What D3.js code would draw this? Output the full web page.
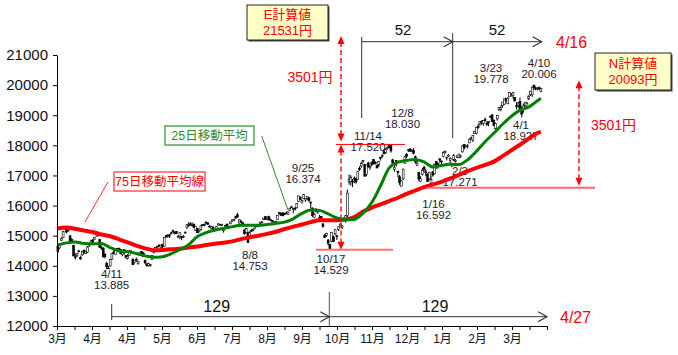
<!DOCTYPE html>
<html><head><meta charset="utf-8">
<script src="https://cdn.jsdelivr.net/npm/d3@7"></script>
<style>
body{margin:0;background:#fff}
svg{display:block}
text{font-family:"Liberation Sans","Noto Sans CJK JP",sans-serif}
</style>
</head><body>
<svg id="c" width="678" height="355"></svg>
<script>
// ---------------- DATA ----------------
// Daily candles, 2014/3/3 (index 0) .. 2015/4/16 (index 277)
const openP=[14651,14595,14850,14928,15213,15176,15163,14996,14870,14669,
14298,14330,14492,14269,14365,14524,14415,14452,14680,14726,
14862,14870,15030,15061,14869,14595,14593,14380,14080,13924,
13997,14221,14452,14368,14571,14587,14545,14370,14542,14343,
14249,14344,14488,14223,14104,14215,14065,14351,14470,14428,
14175,14058,14017,14011,14211,14479,14517,14616,14674,14617,
14711,14650,14998,15025,15028,15096,15160,15118,15137,14972,
14962,14972,14962,15109,15256,15352,15396,15329,15384,15185,
15236,15137,15197,15339,15371,15440,15425,15308,15244,15283,
15193,15236,15355,15362,15364,15163,15324,15385,15291,15393,
15489,15516,15577,15695,15417,15482,15444,15181,15097,15094,
14962,15178,15181,15250,15339,15309,15398,15445,15536,15633,
15551,15640,15511,15500,15389,15466,15532,15763,15722,15758,
15723,15754,15711,15836,15956,15899,15906,15923,16137,16284,
16096,16235,16184,16228,16260,16117,15916,15606,15850,15822,
15578,15638,15391,15018,15011,14857,14703,14817,14964,15061,
14996,15212,15298,15280,15551,15532,15673,16785,16800,16810,
16907,16912,16868,17241,17317,17464,17359,17030,17412,17272,
17437,17533,17450,17333,17339,17600,17644,17794,17747,17900,
18006,17989,17519,17207,17500,17143,16958,16643,16887,17400,
17702,17829,17884,17788,17825,17621,17325,17101,16808,17041,
17273,17122,17040,16887,16731,17121,17055,17457,17398,17556,
17477,17635,17752,17585,17631,17505,17365,17504,17460,17597,
17588,17646,17783,18030,17952,17985,18079,18239,18176,18386,
18407,18632,18717,18793,18732,18860,18719,18786,18967,19011,
18837,18551,18878,19182,19188,19314,19368,19547,19380,19610,
19680,19664,19596,19311,19313,19452,19154,19183,19307,19301,
19539,19688,19679,20003,19900,19876,19913,19793];
const highP=[14651,14732,14940,15140,15312,15215,15242,15018,14911,14698,
14417,14420,14531,14335,14485,14529,14499,14656,14757,14855,
14881,14962,15079,15138,14895,14671,14607,14429,14134,13999,
14220,14422,14527,14521,14588,14593,14564,14467,14545,14348,
14388,14523,14519,14237,14181,14274,14171,14442,14493,14453,
14208,14086,14100,14056,14345,14532,14619,14660,14719,14694,
14730,14936,15021,15038,15047,15124,15203,15134,15155,15019,
15109,14972,15021,15141,15381,15451,15442,15442,15397,15323,
15259,15167,15343,15389,15405,15490,15442,15353,15332,15313,
15228,15320,15406,15391,15394,15278,15359,15396,15329,15464,
15531,15560,15660,15759,15547,15530,15450,15216,15256,15117,
15133,15220,15245,15328,15374,15339,15451,15485,15590,15640,
15623,15663,15570,15519,15469,15496,15670,15781,15772,15777,
15757,15802,15801,15931,15992,15925,15956,16067,16321,16294,
16204,16374,16235,16311,16264,16132,15939,15760,15895,15858,
15689,15651,15409,15052,15101,14888,14707,15115,15006,15217,
15030,15304,15397,15346,15613,15683,16533,17033,17006,16882,
16969,16913,17155,17308,17458,17520,17386,17350,17457,17344,
17463,17550,17458,17355,17460,17617,17702,17864,17892,17965,
18030,18000,17553,17421,17517,17143,17015,16852,17225,17650,
17750,17875,17894,17870,17911,17662,17540,17101,16974,17243,
17325,17219,17075,17120,16998,17144,17390,17480,17421,17564,
17500,17795,17829,17607,17712,17605,17422,17700,17545,17669,
17717,17685,18002,18045,18015,18037,18229,18268,18332,18485,
18611,18706,18785,18839,18834,18925,18788,18786,18981,19033,
18855,18750,19012,19263,19321,19439,19544,19587,19590,19778,
19730,19778,19599,19439,19436,19592,19299,19389,19435,19441,
19658,19792,19949,20006,19957,19925,19957,19914];
const lowP=[14409,14560,14830,14920,15193,15071,15128,14814,14756,14318,
14203,14294,14446,14201,14330,14382,14397,14422,14621,14712,
14748,14853,14969,14955,14606,14528,14266,14243,13885,13892,
13976,14195,14392,14363,14492,14481,14380,14315,14361,14234,
14208,14328,14422,14023,14074,14137,14043,14324,14390,14290,
14058,13964,13976,13964,14202,14413,14509,14594,14628,14594,
14589,14634,14920,14932,14921,15037,15098,15041,15052,14928,
14880,14850,14917,15060,15230,15295,15329,15307,15257,15158,
15084,15105,15166,15308,15311,15411,15350,15266,15231,15170,
15133,15226,15336,15326,15315,15100,15258,15292,15236,15380,
15457,15482,15552,15600,15407,15425,15311,15030,15080,14753,
14952,15126,15139,15221,15294,15277,15374,15412,15513,15523,
15511,15515,15481,15441,15343,15417,15525,15688,15663,15638,
15681,15715,15687,15826,15929,15743,15838,15920,16115,16185,
16066,16215,16121,16173,16124,15914,15624,15594,15765,15729,
15525,15459,15265,14920,14965,14674,14529,14776,14790,15012,
14855,15154,15286,15221,15513,15436,15620,16693,16658,16612,
16742,16731,16853,17148,17252,17400,16973,16976,17256,17184,
17310,17359,17370,17240,17280,17493,17580,17700,17732,17864,
17897,17759,17386,17123,17289,16936,16672,16643,16853,17398,
17571,17778,17782,17778,17698,17386,17325,16808,16808,16992,
17122,16971,16783,16843,16592,16960,17030,17220,17220,17422,
17380,17600,17729,17502,17604,17407,17271,17472,17421,17586,
17569,17586,17761,17856,17930,17892,18079,18173,18111,18382,
18364,18549,18648,18679,18652,18780,18639,18637,18897,18790,
18634,18469,18821,19144,19127,19248,19341,19424,19369,19603,
19620,19554,19462,19192,19250,19206,18927,19082,19276,19255,
19512,19639,19606,19837,19825,19823,19837,19764];
const closeP=[14475,14721,14897,15134,15274,15120,15224,14830,14815,14327,
14277,14411,14462,14224,14475,14423,14477,14622,14696,14828,
14791,14946,15071,15063,14606,14607,14299,14300,13960,13910,
14203,14417,14417,14516,14512,14546,14404,14429,14429,14288,
14304,14485,14457,14033,14163,14199,14149,14425,14405,14298,
14097,14006,14075,14042,14337,14462,14602,14636,14670,14682,
14632,14935,14976,15000,14984,15077,15124,15069,15069,14973,
15097,14933,14975,15115,15361,15349,15369,15376,15266,15308,
15095,15162,15326,15369,15348,15437,15379,15314,15302,15216,
15164,15297,15395,15379,15370,15215,15343,15328,15284,15457,
15529,15530,15646,15621,15523,15474,15320,15065,15232,14778,
15130,15161,15213,15314,15318,15322,15449,15454,15586,15539,
15613,15521,15534,15459,15424,15476,15668,15728,15676,15668,
15705,15749,15788,15909,15948,15911,15888,16067,16321,16205,
16167,16374,16229,16310,16173,16082,15661,15708,15891,15784,
15595,15479,15300,14936,15074,14738,14532,15111,14804,15195,
14975,15291,15388,15329,15553,15658,16413,16862,16937,16793,
16880,16780,17124,17197,17392,17490,16973,17344,17288,17300,
17357,17407,17383,17248,17459,17590,17663,17720,17887,17920,
17935,17813,17412,17257,17371,17099,16755,16819,17210,17621,
17635,17854,17808,17818,17729,17450,17408,16883,16885,17167,
17197,17087,16795,17108,16864,17014,17366,17280,17329,17511,
17468,17768,17795,17606,17674,17558,17335,17678,17504,17648,
17711,17652,17979,17913,18004,17987,18199,18264,18332,18466,
18603,18585,18785,18797,18826,18815,18703,18751,18971,18790,
18665,18723,18991,19254,19246,19437,19544,19476,19560,19754,
19713,19746,19471,19285,19411,19206,19034,19312,19435,19397,
19640,19789,19937,19907,19905,19908,19869,19885];

// Moving averages (every 5th trading day + last day)
const maDays=[0,5,10,15,20,25,30,35,40,45,50,55,60,65,70,75,80,85,90,95,100,105,110,115,120,125,130,135,140,145,150,155,160,165,170,175,180,185,190,195,200,205,210,215,220,225,230,235,240,245,250,255,260,265,270,275,277];
const ma25=[14690,14760,14790,14740,14730,14740,14600,14500,14470,14410,14330,14280,14300,14400,14540,14700,14970,15100,15190,15240,15300,15345,15350,15345,15370,15410,15450,15560,15740,15850,15840,15720,15590,15530,15540,15750,16100,16650,17250,17440,17500,17530,17450,17280,17330,17370,17360,17520,17800,18120,18400,18700,18960,19170,19270,19480,19560];
const ma75=[15240,15268,15230,15170,15120,15040,14980,14880,14780,14670,14580,14515,14525,14545,14570,14610,14640,14690,14730,14765,14810,14885,14945,15000,15060,15130,15220,15300,15370,15450,15510,15515,15515,15540,15620,15800,15930,16040,16150,16260,16390,16500,16610,16700,16790,16900,17020,17140,17250,17350,17460,17640,17830,18020,18220,18410,18449];

const monthLabels=["3月","4月","4月","5月","6月","7月","8月","9月","10月","11月","12月","1月","2月","3月"];
const yTicks=[12000,13000,14000,15000,16000,17000,18000,19000,20000,21000];

const pointDates=["4/11","8/8","9/25","10/17","11/14","12/8","1/16","2/3","3/23","4/1","4/10"];
const pointVals=["13.885","14.753","16.374","14.529","17.520","18.030","16.592","17.271","19.778","18.927","20.006"];

const levelHigh=18030, levelLow=14529, levelLow2=16592;
const eValue=21531, nValue=20093, diffValue=3501;
const spanDays1=52, spanDays2=129;

// ---------------- DRAW ----------------
const svg=d3.select("#c");
const x=d3.scaleLinear().domain([0,281]).range([57,547]);
const y=d3.scaleLinear().domain([12000,21000]).range([326,55]);
const tickScale=d3.scaleLinear().domain([0,28]).range([57,547]);

// axes
const gy=svg.append("g").attr("transform","translate(57,0)")
  .call(d3.axisLeft(y).tickValues(yTicks).tickSize(4).tickSizeOuter(0).tickPadding(5).tickFormat(d=>String(d)));
gy.selectAll("text").attr("font-size",15).attr("fill","#111");
gy.selectAll("line,path").attr("stroke","#000");

const gx=svg.append("g").attr("transform","translate(0,326)")
  .call(d3.axisBottom(tickScale).tickValues(d3.range(29)).tickSize(4).tickSizeOuter(0).tickPadding(4)
  .tickFormat(k=>(k%2===0 && k/2<monthLabels.length)?monthLabels[k/2]:""));
gx.selectAll("text").attr("font-size",12).attr("fill","#111");
gx.selectAll("line,path").attr("stroke","#000");

// point labels (under the lines)
const lblPos=[[111.7,273.8],[250,254.7],[303,167.5],[331,259],[368,135.8],[402.5,112.5],[433.5,203.7],[460,170.8],[491,67.5],[521,124.5],[539,62.5]];
const gl=svg.append("g").attr("font-size",11.5).attr("fill","#1b1b2b").attr("text-anchor","middle");
pointDates.forEach((d,i)=>{
  gl.append("text").attr("x",lblPos[i][0]).attr("y",lblPos[i][1]).attr("dy","0.35em").text(d);
  gl.append("text").attr("x",lblPos[i][0]).attr("y",lblPos[i][1]+11.3).attr("dy","0.35em").text(pointVals[i]);
});

// candles
const gc=svg.append("g");
const cx=i=>x(i+0.5);
gc.selectAll("line").data(closeP).join("line")
  .attr("x1",(d,i)=>cx(i)).attr("x2",(d,i)=>cx(i))
  .attr("y1",(d,i)=>y(highP[i])).attr("y2",(d,i)=>y(lowP[i]))
  .attr("stroke","#000").attr("stroke-width",1);
gc.selectAll("rect").data(closeP).join("rect")
  .attr("x",(d,i)=>cx(i)-0.95).attr("width",1.9)
  .attr("y",(d,i)=>y(Math.max(d,openP[i])))
  .attr("height",(d,i)=>Math.max(0.8,Math.abs(y(d)-y(openP[i]))))
  .attr("fill",(d,i)=>d>=openP[i]?"#fff":"#000")
  .attr("stroke","#000").attr("stroke-width",0.6);

// moving averages
const line=arr=>d3.line().x((d,i)=>x(maDays[i]+0.5)).y(d=>y(d)).curve(d3.curveMonotoneX)(arr);
svg.append("path").attr("d",line(ma75)).attr("fill","none").attr("stroke","#ff0000").attr("stroke-width",4).attr("stroke-linejoin","round");
svg.append("path").attr("d",line(ma25)).attr("fill","none").attr("stroke","#008000").attr("stroke-width",3).attr("stroke-linejoin","round");

// level lines
const ga=svg.append("g");
ga.append("line").attr("x1",336).attr("x2",405).attr("y1",y(levelHigh)).attr("y2",y(levelHigh)).attr("stroke","#ff0000").attr("stroke-width",1);
ga.append("line").attr("x1",316).attr("x2",393).attr("y1",y(levelLow)).attr("y2",y(levelLow)).attr("stroke","#ff7070").attr("stroke-width",2);
ga.append("line").attr("x1",427).attr("x2",595).attr("y1",y(levelLow2)).attr("y2",y(levelLow2)).attr("stroke","#ff6a6a").attr("stroke-width",2);

// dashed double arrows
function head(g,xp,yp,up){
  const s=up?1:-1;
  g.append("path").attr("d",`M${xp},${yp} L${xp-3.5},${yp+8*s} L${xp+3.5},${yp+8*s} Z`).attr("fill","#ff0000");
}
function dArrow(xp,yTop,yBot){
  ga.append("line").attr("x1",xp).attr("x2",xp).attr("y1",yTop+6).attr("y2",yBot-6)
    .attr("stroke","#ff0000").attr("stroke-width",1.4).attr("stroke-dasharray","5,3");
  head(ga,xp,yTop,true); head(ga,xp,yBot,false);
}
dArrow(341,y(eValue)-3,y(levelHigh)-3);
dArrow(341,y(levelHigh)+0,y(levelLow));
dArrow(579,y(nValue)-2,y(levelLow2)-2);

// black span brackets
function seg(x1,y1,x2,y2,c){ga.append("line").attr("x1",x1).attr("y1",y1).attr("x2",x2).attr("y2",y2).attr("stroke",c||"#333").attr("stroke-width",1);}
function chev(xp,yp){ga.append("path").attr("d",`M${xp-9},${yp-5} L${xp},${yp} L${xp-9},${yp+5}`).attr("fill","none").attr("stroke","#333").attr("stroke-width",1.2);}
seg(361.7,37,361.7,118); seg(452.7,33,452.7,138); seg(361.7,41.7,541.7,41.7);
chev(452.7,41.7); chev(541.7,41.7);
seg(111.7,304,111.7,320); seg(111.7,316.7,547,316.7); seg(329.3,292,329.3,326,"#555");
chev(329.3,316.7); chev(547,316.7);

function txt(t,xp,yp,size,fill,anchor){
  return ga.append("text").attr("x",xp).attr("y",yp).attr("dy","0.35em").attr("font-size",size)
    .attr("fill",fill).attr("text-anchor",anchor||"middle").text(t);
}
txt(String(spanDays1),403,30,15,"#111");
txt(String(spanDays1),497,30,15,"#111");
txt("4/16",556,42,16,"#ff0000","start");
txt(String(spanDays2),216.7,306.7,16,"#111");
txt(String(spanDays2),435,306,16,"#111");
txt("4/27",560,317,16,"#ff0000","start");
txt(diffValue+"円",310,77,14,"#ff0000");
txt(diffValue+"円",613.5,125,14,"#ff0000");

// value boxes
function calcBox(bx,by,bw,bh,l1,l2){
  ga.append("rect").attr("x",bx+1.5).attr("y",by+1.5).attr("width",bw).attr("height",bh).attr("fill","#444");
  ga.append("rect").attr("x",bx).attr("y",by).attr("width",bw).attr("height",bh).attr("fill","#ffffc8").attr("stroke","#222").attr("stroke-width",1);
  txt(l1,bx+bw/2,by+bh/2-7.6,13,"#ff0000");
  txt(l2,bx+bw/2,by+bh/2+7.6,13,"#ff0000");
}
calcBox(247,5,81,35,"E計算値",eValue+"円");
calcBox(595,53,76,37,"N計算値",nValue+"円");

// legend boxes with leader lines
ga.append("line").attr("x1",261.7).attr("y1",136).attr("x2",288).attr("y2",210).attr("stroke","#2e8b2e").attr("stroke-width",1);
ga.append("rect").attr("x",165).attr("y",126).attr("width",89).attr("height",19).attr("fill","#fff").attr("stroke","#3a9a3a").attr("stroke-width",1.3);
txt("25日移動平均",209.5,135.5,12.5,"#2e8b2e");
ga.append("line").attr("x1",108).attr("y1",182).attr("x2",85).attr("y2",222).attr("stroke","#ff3030").attr("stroke-width",1);
ga.append("rect").attr("x",114).attr("y",172).attr("width",91).attr("height",19).attr("fill","#fff").attr("stroke","#ff3b3b").attr("stroke-width",1.3);
txt("75日移動平均線",159.5,181.5,12.5,"#ff0000");
</script>
</body></html>
